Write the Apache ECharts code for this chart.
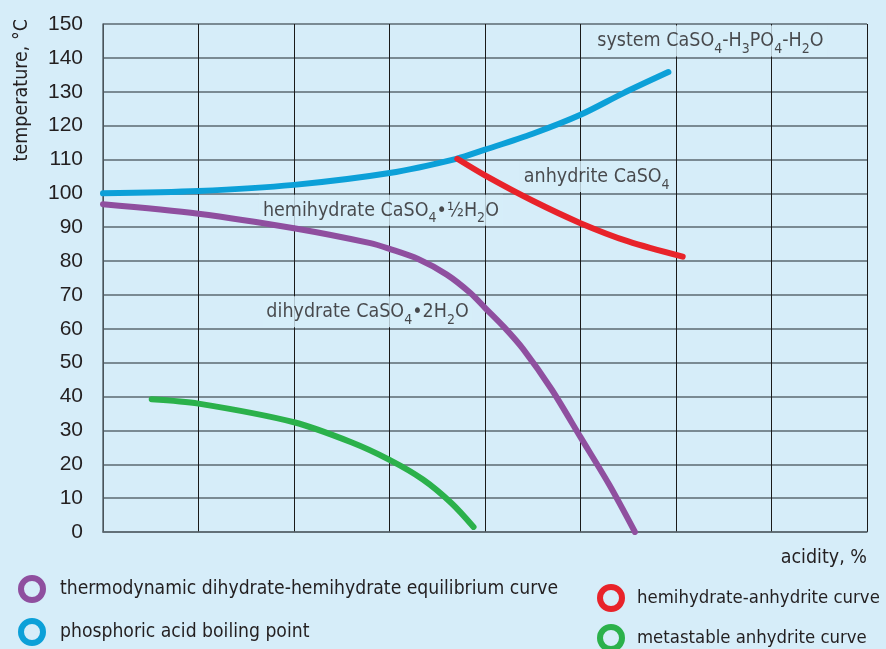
<!DOCTYPE html>
<html>
<head>
<meta charset="utf-8">
<script src="https://cdn.jsdelivr.net/npm/echarts@6/dist/echarts.min.js"></script>
<style>
  html, body { margin: 0; padding: 0; background: #d6edf9; }
  #chart { width: 886px; height: 649px; }
</style>
</head>
<body>
<div id="chart"></div>
<script>
// acidity (grid units, no scale given) and temperature (°C)
const boilAcid = [0, 1, 2, 3, 3.7, 4, 4.5, 5, 5.45, 5.92]
const boilTemp = [100, 100.7, 102.5, 106, 110.2, 112.9, 117.6, 123.2, 129.6, 135.8]

const hemiAnhAcid = [3.71, 4, 4.5, 5, 5.5, 6.07]
const hemiAnhTemp = [110.2, 105.3, 97.8, 91.2, 85.8, 81.3]

const dihHemiAcid = [0, 1, 2, 2.8, 3, 3.3, 3.6, 3.85, 4, 4.2, 4.4, 4.7, 5, 5.3, 5.57]
const dihHemiTemp = [96.8, 94, 89.7, 85.3, 83.6, 80.6, 76, 70.5, 66.2, 60.5, 54, 42, 28, 14, 0]

const metaAcid = [0.51, 1, 2, 2.6, 3, 3.35, 3.65, 3.88]
const metaTemp = [39.2, 37.9, 32.4, 26.5, 21.3, 15.5, 8.5, 1.5]

const seriesNames = [
    'thermodynamic dihydrate-hemihydrate equilibrium curve',
    'phosphoric acid boiling point',
    'hemihydrate-anhydrite curve',
    'metastable anhydrite curve',
]

const regionTexts = [
    'system CaSO{s|4}-H{s|3}PO{s|4}-H{s|2}O',
    'anhydrite CaSO{s|4}',
    'hemihydrate CaSO{s|4}\u2022\u00bdH{s|2}O',
    'dihydrate CaSO{s|4}\u20222H{s|2}O',
]
const regionAcid = [6.36, 5.17, 2.91, 2.77]
const regionTemp = [145, 105, 95, 65]

const BG = '#d6edf9'
const INK = '#231f20'
const NARROW = '"Liberation Sans Narrow", "DejaVu Sans Condensed", sans-serif'
const colors = ['#8f4f9f', '#0ca0d8', '#e8232a', '#2bb14b']

// where each legend entry sits: [left, top]
const legendPos = [[18, 575], [18, 618], [597, 584], [597, 624]]

const pairs = (xs, ys) => xs.map((x, i) => [x, ys[i]])

function curve(name, color, data) {
    return {
        name,
        type: 'line',
        data,
        smooth: 0.3,
        symbol: 'none',
        z: 3,
        lineStyle: { color, width: 6, cap: 'round' },
        itemStyle: { color },
    }
}

const chart = echarts.init(document.getElementById('chart'), null, { renderer: 'canvas' })

const legends = seriesNames.map((name, i) => ({
    left: legendPos[i][0],
    top: legendPos[i][1],
    padding: 0,
    itemWidth: 22,
    itemHeight: 22,
    selectedMode: false,
    textStyle: {
        fontFamily: NARROW,
        fontSize: i < 2 ? 19.2 : 18.4,
        color: INK,
        padding: [0, 0, 0, i < 2 ? 12 : 10],
    },
    data: [{
        name,
        icon: 'circle',
        itemStyle: { color: 'transparent', borderColor: colors[i], borderWidth: 6 },
    }],
}))

chart.setOption({
    backgroundColor: BG,
    animation: false,
    textStyle: { fontFamily: NARROW, color: INK },
    grid: { left: 103, right: 19, top: 24, bottom: 117 },
    xAxis: {
        type: 'value',
        min: 0,
        max: 8,
        interval: 1,
        name: 'acidity, %',
        nameLocation: 'end',
        nameGap: 0,
        nameTextStyle: {
            fontFamily: NARROW, fontSize: 19.5, color: INK,
            align: 'right', verticalAlign: 'top', padding: [16, 0, 0, 0],
        },
        axisLine: { show: true, lineStyle: { color: '#5b6870', width: 1.5 } },
        axisTick: { show: false },
        axisLabel: { show: false },
        splitLine: { show: true, lineStyle: { color: '#1a1a1a', width: 1 } },
    },
    yAxis: {
        type: 'value',
        min: 0,
        max: 150,
        interval: 10,
        axisLine: { show: true, lineStyle: { color: '#5b6870', width: 1.5 } },
        axisTick: { show: false },
        axisLabel: { fontFamily: '"Liberation Sans", sans-serif', fontSize: 21, color: INK, margin: 20 },
        splitLine: { show: true, lineStyle: { color: '#5b6870', width: 1.5 } },
    },
    legend: legends,
    graphic: [{
        type: 'text',
        x: 22,
        y: 19,
        rotation: Math.PI / 2,
        style: {
            text: 'temperature, \u00b0C',
            font: '19.5px ' + NARROW,
            fill: INK,
            align: 'right',
            verticalAlign: 'middle',
        },
    }],
    series: [
        curve(seriesNames[0], colors[0], pairs(dihHemiAcid, dihHemiTemp)),
        curve(seriesNames[1], colors[1], pairs(boilAcid, boilTemp)),
        curve(seriesNames[2], colors[2], pairs(hemiAnhAcid, hemiAnhTemp)),
        curve(seriesNames[3], colors[3], pairs(metaAcid, metaTemp)),
        {
            name: 'regions',
            type: 'scatter',
            symbolSize: 0,
            z: 1,
            silent: true,
            data: regionTexts.map((t, i) => ({
                value: [regionAcid[i], regionTemp[i]],
                label: { formatter: t },
            })),
            label: {
                show: true,
                position: 'inside',
                fontFamily: NARROW,
                fontSize: 19.5,
                lineHeight: 20,
                color: INK,
                backgroundColor: BG,
                padding: [6, 4, 5, 4],
                rich: {
                    s: { fontFamily: NARROW, fontSize: 14, lineHeight: 20, padding: [16, 0, 0, 0], color: INK },
                },
            },
        },
    ],
})

window.addEventListener('resize', () => chart.resize())
</script>
</body>
</html>
